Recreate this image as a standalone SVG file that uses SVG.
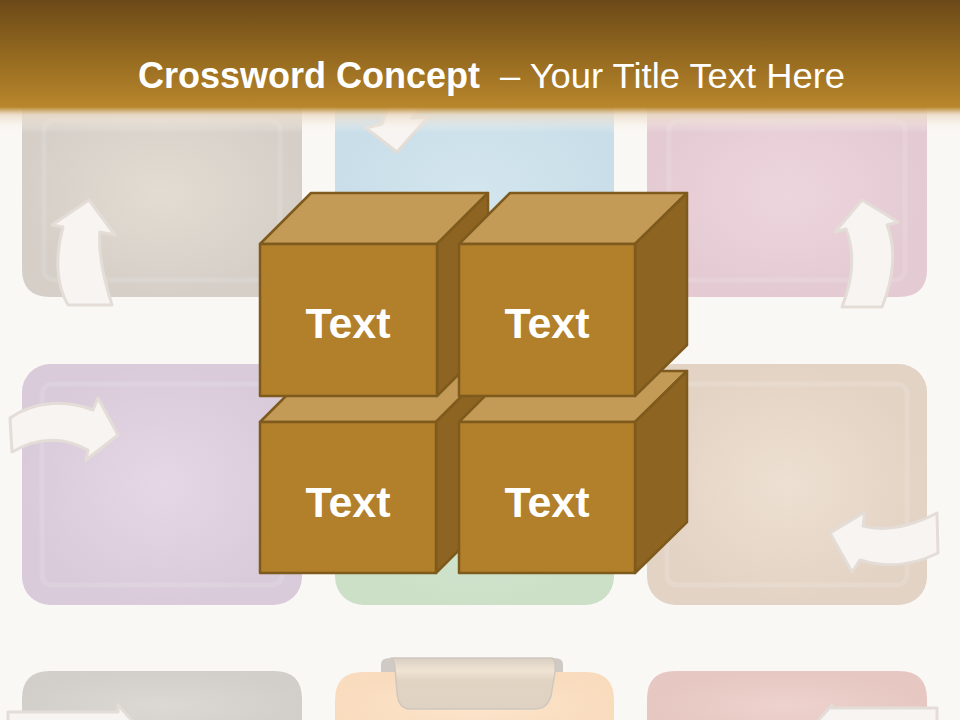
<svg xmlns="http://www.w3.org/2000/svg" width="960" height="720" viewBox="0 0 960 720">
<defs>
<style>
.front{fill:#B27F2B;stroke:#7E5A1D;stroke-width:2.5;stroke-linejoin:round}
.top{fill:#C49A57;stroke:#7E5A1D;stroke-width:2.5;stroke-linejoin:round}
.side{fill:#8E6422;stroke:#7E5A1D;stroke-width:2.5;stroke-linejoin:round}
.lbl{font-family:"Liberation Sans",Arial,sans-serif;font-weight:bold;font-size:43px;fill:#FFFFFF;text-anchor:middle}
.arrow{fill:#F8F4F1;stroke:#E4DDD7;stroke-width:3;stroke-linejoin:round}
.inner{fill:none;stroke:#FFFFFF;stroke-opacity:0.12;stroke-width:5}
</style>
<linearGradient id="hdr" x1="0" y1="0" x2="0" y2="1">
<stop offset="0" stop-color="#6B4918"/>
<stop offset="0.5" stop-color="#93681F"/>
<stop offset="1" stop-color="#B9872C"/>
</linearGradient>
<linearGradient id="fade" x1="0" y1="0" x2="0" y2="1">
<stop offset="0" stop-color="#B9872C" stop-opacity="1"/>
<stop offset="0.3" stop-color="#EAD9C3" stop-opacity="0.8"/>
<stop offset="1" stop-color="#FBF9F6" stop-opacity="0"/>
</linearGradient>
<radialGradient id="g1"><stop offset="0" stop-color="#E2DCD2"/><stop offset="1" stop-color="#D5CFC8"/></radialGradient>
<radialGradient id="g2"><stop offset="0" stop-color="#D3E6EE"/><stop offset="1" stop-color="#C9DEE9"/></radialGradient>
<radialGradient id="g3"><stop offset="0" stop-color="#EDD5DE"/><stop offset="1" stop-color="#E4CAD3"/></radialGradient>
<radialGradient id="g4"><stop offset="0" stop-color="#E6D7E6"/><stop offset="1" stop-color="#D9CBDA"/></radialGradient>
<radialGradient id="g5"><stop offset="0" stop-color="#D6E8D2"/><stop offset="1" stop-color="#CCE0C8"/></radialGradient>
<radialGradient id="g6"><stop offset="0" stop-color="#EDDFD1"/><stop offset="1" stop-color="#E3D3C5"/></radialGradient>
<radialGradient id="g7"><stop offset="0" stop-color="#DCD9D4"/><stop offset="1" stop-color="#D2CFCA"/></radialGradient>
<radialGradient id="g8"><stop offset="0" stop-color="#FCE4CB"/><stop offset="1" stop-color="#F9DCBE"/></radialGradient>
<radialGradient id="g9"><stop offset="0" stop-color="#EED2CD"/><stop offset="1" stop-color="#E6C7C1"/></radialGradient>
<linearGradient id="tab" x1="0" y1="0" x2="0" y2="1">
<stop offset="0" stop-color="#D9CFC3"/>
<stop offset="0.25" stop-color="#EFE3D3"/>
<stop offset="0.45" stop-color="#E2D4C3"/>
<stop offset="1" stop-color="#DFD2C2"/>
</linearGradient>
</defs>
<rect x="0" y="0" width="960" height="720" fill="#FAF8F5"/>

<g id="background-tiles">
<path d="M22 90 H302 V297 H50 Q22 297 22 269 Z" fill="url(#g1)"/>
<rect x="44" y="120" width="236" height="160" rx="10" class="inner"/>
<path d="M335 90 H614 V268 Q614 296 586 296 H363 Q335 296 335 268 Z" fill="url(#g2)"/>
<path d="M647 90 H927 V269 Q927 297 899 297 H647 Z" fill="url(#g3)"/>
<rect x="669" y="120" width="236" height="160" rx="10" class="inner"/>
<rect x="22" y="364" width="280" height="241" rx="28" fill="url(#g4)"/>
<rect x="42" y="384" width="240" height="201" rx="10" class="inner"/>
<rect x="335" y="364" width="279" height="241" rx="28" fill="url(#g5)"/>
<rect x="647" y="364" width="280" height="241" rx="28" fill="url(#g6)"/>
<rect x="667" y="384" width="240" height="201" rx="10" class="inner"/>
<path d="M22 740 V699 Q22 671 50 671 H274 Q302 671 302 699 V740 Z" fill="url(#g7)"/>
<path d="M335 740 V700 Q335 672 363 672 H586 Q614 672 614 700 V740 Z" fill="url(#g8)"/>
<path d="M647 740 V699 Q647 671 675 671 H899 Q927 671 927 699 V740 Z" fill="url(#g9)"/>
<path d="M381 672 V664 Q381 658 390 658 H554 Q563 658 563 664 V672 Z" fill="#CFCAC4"/>
<path d="M392 658 H552 Q556 660 555 672 L552 690 Q550 709 535 709 H410 Q398 709 397 692 L395 668 Q394 660 392 658 Z" fill="url(#tab)" stroke="#CFC7BE" stroke-width="1.5"/>
</g>

<g id="background-arrows">
<path class="arrow" d="M89 200 L115 235 L100 232 C98 255 104 280 112 305 L68 305 C56 285 55 255 63 227 L52 225 Z"/>
<path class="arrow" d="M862 200 L898 222 L887 225 C897 250 893 280 882 307 L842 307 C852 282 856 255 846 229 L835 232 Z"/>
<path class="arrow" d="M118 435 L86 460 L88 450 C62 436 36 438 12 452 L10 418 C36 400 68 400 93 410 L98 398 Z"/>
<path class="arrow" d="M830 533 L865 512 L863 526 C886 532 912 526 937 513 L938 553 C912 566 886 568 860 560 L852 572 Z"/>
<path class="arrow" d="M397 152 L366 128 L382 124 C386 110 392 100 400 90 L432 96 C424 104 417 111 412 118 L428 117 Z"/>
<path class="arrow" d="M8 712 H118 V705 L145 735 L8 735 Z"/>
<path class="arrow" d="M937 708 H832 V705 L805 735 L937 735 Z"/>
</g>

<g id="header">
<rect x="0" y="0" width="960" height="108" fill="url(#hdr)"/>
<rect x="0" y="107" width="960" height="26" fill="url(#fade)"/>
<text x="138" y="88" font-family="'Liberation Sans',Arial,sans-serif" font-weight="bold" font-size="36" fill="#FFFFFF" textLength="342" lengthAdjust="spacingAndGlyphs">Crossword Concept</text>
<text x="500" y="88" font-family="'Liberation Sans',Arial,sans-serif" font-size="35" fill="#FFFFFF" textLength="345" lengthAdjust="spacingAndGlyphs">– Your Title Text Here</text>
</g>

<g id="cube-bottom-left">
<polygon class="top" points="260,422 311,371 487,371 436,422"/>
<polygon class="side" points="436,422 487,371 487,522 436,573"/>
<rect class="front" x="260" y="422" width="176" height="151"/>
<text class="lbl" x="348" y="517">Text</text>
</g>
<g id="cube-bottom-right">
<polygon class="top" points="459,422 510,371 687,371 635,422"/>
<polygon class="side" points="635,422 687,371 687,522 635,573"/>
<rect class="front" x="459" y="422" width="176" height="151"/>
<text class="lbl" x="547" y="517">Text</text>
</g>
<g id="cube-top-left">
<polygon class="top" points="260,244 311,193 488,193 437,244"/>
<polygon class="side" points="437,244 488,193 488,345 437,396"/>
<rect class="front" x="260" y="244" width="177" height="152"/>
<text class="lbl" x="348" y="338">Text</text>
</g>
<g id="cube-top-right">
<polygon class="top" points="459,244 510,193 687,193 635,244"/>
<polygon class="side" points="635,244 687,193 687,345 635,396"/>
<rect class="front" x="459" y="244" width="176" height="152"/>
<text class="lbl" x="547" y="338">Text</text>
</g>
</svg>
